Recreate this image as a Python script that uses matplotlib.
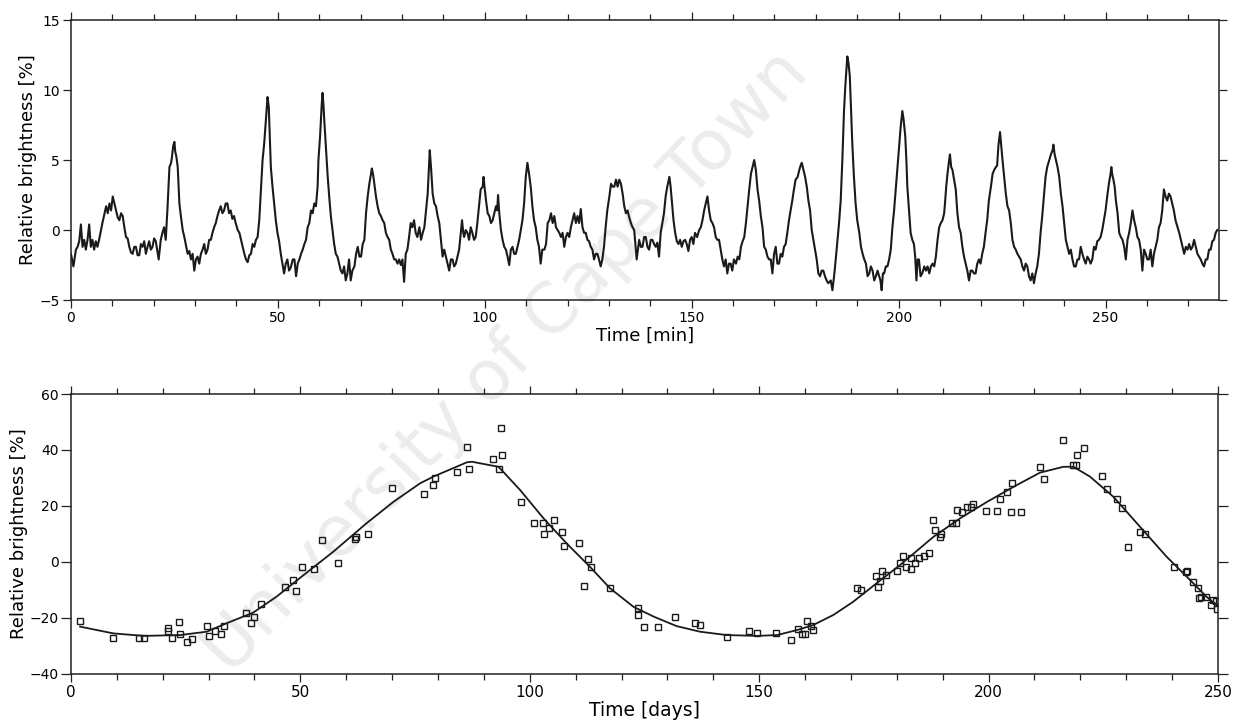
import matplotlib
matplotlib.use("Agg")
import matplotlib.pyplot as plt
from matplotlib.ticker import MultipleLocator

# light curve, top panel
minutes = [
    0.0, 0.6, 1.2, 1.6, 2.0, 2.4, 2.8, 3.2, 3.6, 4.0,
    4.4, 4.8, 5.2, 5.6, 6.0, 6.4, 6.8, 7.6, 8.5, 8.9,
    9.3, 9.7, 10.1, 10.5, 10.9, 11.3, 11.7, 12.1, 12.5, 12.9,
    13.3, 13.7, 14.1, 14.5, 14.9, 15.3, 15.7, 16.1, 16.5, 16.9,
    17.3, 17.7, 18.1, 18.5, 18.9, 19.3, 19.7, 20.1, 20.5, 21.2,
    21.7, 22.1, 22.5, 22.9, 23.3, 23.8, 24.2, 24.4, 24.7, 25.0,
    25.2, 25.5, 25.8, 26.2, 26.6, 27.0, 27.4, 27.8, 28.2, 28.6,
    29.0, 29.4, 29.8, 30.2, 30.6, 31.0, 31.4, 31.8, 32.2, 32.6,
    33.0, 33.4, 33.8, 34.2, 34.6, 35.0, 35.4, 35.8, 36.2, 36.6,
    37.0, 37.4, 37.8, 38.2, 38.6, 39.0, 39.4, 39.8, 40.3, 40.7,
    41.1, 41.5, 41.9, 42.3, 42.7, 43.1, 43.5, 43.9, 44.3, 44.7,
    45.1, 45.5, 45.9, 46.3, 46.7, 47.0, 47.3, 47.5, 47.8, 47.9,
    48.3, 48.7, 49.1, 49.5, 49.9, 50.3, 50.7, 51.1, 51.5, 51.9,
    52.3, 52.7, 53.1, 53.6, 54.0, 54.4, 54.8, 55.2, 55.6, 56.0,
    56.4, 56.8, 57.2, 57.6, 58.0, 58.4, 58.8, 59.2, 59.6, 59.8,
    60.2, 60.4, 60.6, 60.8, 61.0, 61.2, 61.6, 62.0, 62.4, 62.8,
    63.2, 63.6, 64.0, 64.4, 64.8, 65.2, 65.6, 66.0, 66.4, 66.8,
    67.2, 67.6, 68.0, 68.5, 68.9, 69.3, 69.7, 70.1, 70.5, 70.9,
    71.3, 71.7, 72.1, 72.5, 72.7, 73.0, 73.3, 73.7, 74.1, 74.5,
    74.9, 75.3, 75.7, 76.1, 76.5, 76.9, 77.3, 77.7, 78.1, 78.5,
    78.9, 79.3, 79.7, 80.1, 80.5, 80.9, 81.3, 81.7, 82.1, 82.5,
    82.9, 83.3, 83.7, 84.2, 84.6, 85.0, 85.4, 85.8, 86.2, 86.5,
    86.7, 87.0, 87.4, 87.8, 88.2, 88.6, 89.0, 89.4, 89.8, 90.2,
    90.6, 91.0, 91.4, 91.8, 92.2, 92.6, 93.0, 93.4, 93.8, 94.2,
    94.5, 94.8, 95.0, 95.4, 95.8, 96.2, 96.6, 97.0, 97.4, 97.8,
    98.2, 98.6, 99.0, 99.5, 99.7, 100.0, 100.3, 100.7, 101.1, 101.5,
    101.9, 102.3, 102.7, 103.0, 103.2, 103.5, 103.9, 104.3, 104.7, 105.1,
    105.5, 105.9, 106.3, 106.7, 107.1, 107.5, 107.9, 108.3, 108.7, 109.1,
    109.5, 109.9, 110.3, 110.7, 111.1, 111.5, 111.9, 112.3, 112.7, 113.1,
    113.5, 113.9, 114.4, 114.8, 115.2, 115.6, 116.0, 116.4, 116.8, 117.2,
    117.6, 118.0, 118.4, 118.8, 119.2, 119.6, 120.0, 120.4, 120.8, 121.2,
    121.6, 122.0, 122.4, 122.8, 123.2, 123.6, 124.0, 124.4, 124.8, 125.2,
    125.6, 126.0, 126.4, 126.8, 127.2, 127.6, 128.0, 128.4, 128.8, 129.2,
    129.6, 130.1, 130.5, 130.9, 131.3, 131.7, 132.1, 132.5, 132.9, 133.3,
    133.7, 134.1, 134.5, 134.9, 135.3, 135.7, 136.1, 136.7,
    137.3, 137.7, 138.1, 138.5, 138.9, 139.3, 139.7, 140.1, 140.5, 140.9,
    141.3, 141.7, 142.1, 142.5, 142.9, 143.3, 143.7, 144.1, 144.6, 144.9,
    145.2, 145.6, 146.0, 146.4, 146.8, 147.2, 147.6, 148.0, 148.4, 148.8,
    149.2, 149.6, 150.0, 150.4, 150.8, 151.3, 151.8, 152.2, 152.6, 153.0,
    153.4, 153.8, 154.2, 154.6, 155.0, 155.4, 155.8, 156.2, 156.6, 157.0,
    157.4, 157.8, 158.2, 158.6, 159.0, 159.4, 159.8, 160.2, 160.7, 161.1,
    161.5, 161.9, 162.3, 162.7, 163.1, 163.5, 163.9, 164.3, 164.7, 165.1,
    165.5, 165.9, 166.3, 166.7, 167.1, 167.5, 167.9, 168.3, 168.7, 169.1,
    169.5, 169.9, 170.3, 170.7, 171.1, 171.5, 171.9, 172.3, 172.7, 173.1,
    173.5, 173.9, 174.3, 174.7, 175.1, 175.6, 176.0, 176.3, 176.6, 177.0,
    177.4, 177.8, 178.2, 178.6, 179.0, 179.4, 179.8, 180.2, 180.6, 181.0,
    181.4, 181.8, 182.2, 182.6, 183.0,
    183.6, 184.0, 184.4, 184.8, 185.2, 185.6, 186.0, 186.4, 186.8, 187.1,
    187.4, 187.6, 187.9, 188.2, 188.5, 188.8, 189.2, 189.6, 190.0, 190.5,
    190.9, 191.3, 191.7, 192.1, 192.5, 192.9, 193.3, 193.7, 194.1, 194.5,
    194.9, 195.3, 195.6, 195.9, 196.2, 196.5, 196.9, 197.3, 197.7, 198.1,
    198.5, 198.9, 199.3, 199.7, 200.1, 200.5, 200.9, 201.2, 201.6, 201.9,
    202.1, 202.5, 202.9, 203.3, 203.7, 204.0, 204.3, 204.6, 204.9, 205.3,
    205.7, 206.2, 206.6, 207.0, 207.4, 207.8, 208.2, 208.6, 209.0, 209.4,
    209.8, 210.2, 210.6, 211.0, 211.2, 211.5, 211.8, 212.2, 212.4, 212.7,
    213.0, 213.4, 213.8, 214.2, 214.6, 215.0, 215.4, 215.8, 216.2, 216.6,
    217.0, 217.4, 217.8, 218.2, 218.6, 219.0, 219.4, 219.8, 220.2, 220.6,
    221.0, 221.4, 221.8, 222.3, 222.7, 223.1, 223.5, 223.8, 224.1, 224.5,
    224.8, 225.1, 225.5, 225.9, 226.3, 226.7, 227.1, 227.5, 227.9, 228.3,
    228.7,
    229.1, 229.5, 229.9, 230.3, 230.7, 231.1, 231.5, 231.9, 232.3, 232.7,
    233.1, 233.5, 233.9, 234.3, 234.7, 235.1, 235.5, 235.9, 236.4, 236.8,
    237.2, 237.4, 237.7, 238.0, 238.4, 238.8, 239.2, 239.6, 240.0, 240.4,
    240.8, 241.2, 241.6, 242.0, 242.4, 242.8, 243.2, 243.6, 244.0, 244.4,
    244.8, 245.2, 245.6, 246.0, 246.4, 246.8, 247.2, 247.6, 248.0, 248.4,
    248.8, 249.2, 249.6, 250.0, 250.4, 250.8, 251.2, 251.4, 251.6, 251.9,
    252.2, 252.5, 252.9, 253.3, 253.7, 254.1, 254.5, 254.9, 255.3, 255.7,
    256.1, 256.5, 256.9, 257.3, 257.7, 258.1, 258.5, 258.9, 259.3, 259.7,
    260.1, 260.5, 260.9, 261.3, 261.7, 262.1, 262.5, 262.9, 263.3, 263.7,
    264.1, 264.5, 264.9, 265.3, 265.7, 266.1, 266.5, 266.9, 267.4, 267.8,
    268.2, 268.6, 269.0, 269.4, 269.8, 270.2, 270.6, 271.0, 271.4, 271.8,
    272.2, 272.6, 273.0, 273.4, 273.8, 274.2, 274.6, 275.0, 275.4, 275.8,
    276.2, 276.6, 277.0,
]
brightness = [
    -1.7, -2.6, -1.4, -1.2, -0.8, 0.4, -1.2, -0.7, -1.4, -0.7,
    0.4, -1.2, -0.7, -1.4, -0.8, -1.2, -0.7, 0.5, 1.7, 1.2,
    1.9, 1.4, 2.4, 1.9, 1.4, 0.9, 0.7, 1.2, 1.0, 0.2,
    -0.5, -0.6, -1.2, -1.6, -1.7, -1.2, -1.2, -1.8, -1.8, -1.0,
    -1.2, -0.8, -1.7, -1.2, -0.8, -1.4, -1.2, -0.6, -0.8, -2.1,
    -0.7, -0.2, 0.2, -0.7, 1.4, 4.5, 4.8, 5.2, 6.0, 6.3,
    5.6, 5.2, 4.5, 1.9, 0.9, 0.0, -0.5, -1.1, -1.7, -1.5,
    -2.1, -1.7, -2.9, -2.1, -1.9, -2.4, -1.7, -1.4, -1.0, -1.7,
    -1.4, -0.7, -0.7, -0.2, 0.2, 0.5, 1.0, 1.4, 1.7, 1.2,
    1.4, 1.9, 1.9, 1.2, 1.4, 0.8, 1.0, 0.5, 0.0, -0.2,
    -0.7, -1.2, -1.7, -2.1, -2.3, -1.8, -1.7, -1.0, -1.2, -0.7,
    -0.5, 0.7, 2.9, 5.0, 6.2, 7.4, 8.5, 9.5, 8.8, 7.9,
    4.5, 3.1, 1.9, 0.7, -0.2, -0.8, -1.7, -2.4, -3.1, -2.4,
    -2.1, -2.9, -2.7, -2.1, -2.1, -3.3, -2.4, -2.1, -1.7, -1.4,
    -1.0, -0.7, 0.2, 0.5, 1.4, 1.2, 1.9, 1.7, 3.1, 5.0,
    6.7, 7.9, 9.0, 9.8, 9.0, 7.9, 6.0, 4.0, 2.4, 1.0,
    0.0, -1.0, -1.7, -1.9, -2.4, -2.9, -3.1, -2.6, -3.6, -3.1,
    -2.1, -3.6, -2.9, -2.6, -1.7, -1.2, -1.9, -1.9, -1.0, -0.7,
    1.2, 2.4, 3.3, 4.0, 4.4, 4.0, 3.3, 2.4, 1.7, 1.2,
    1.0, 0.7, 0.5, -0.2, -0.5, -0.7, -1.4, -1.7, -2.1, -2.1,
    -2.4, -2.1, -2.5, -2.1, -3.7, -1.7, -1.4, -0.5, 0.5, 0.2,
    0.7, -0.2, -0.5, 0.2, -0.7, -0.2, 0.2, 1.4, 2.6, 4.5,
    5.7, 4.5, 2.6, 1.9, 1.7, 1.0, 0.5, -0.7, -1.9, -1.4,
    -1.9, -2.4, -2.9, -2.1, -2.1, -2.6, -2.4, -1.9, -1.4, -0.2,
    0.7, -0.2, -0.5, 0.0, -0.2, -0.7, 0.2, -0.2, -0.7, -0.5,
    0.5, 1.7, 2.9, 3.1, 3.8, 2.9, 2.1, 1.2, 1.0, 0.5,
    0.7, 1.2, 1.7, 1.4, 2.5, 1.2, 0.0, -0.7, -1.2, -1.4,
    -1.9, -2.5, -1.4, -1.2, -1.7, -1.7, -1.2, -0.7, 0.0, 0.7,
    1.9, 3.8, 4.8, 4.0, 3.1, 1.7, 0.7, 0.2, -0.7, -1.2,
    -2.4, -1.4, -1.4, -1.0, 0.5, 0.7, 1.2, 0.5, 1.0, 0.2,
    0.0, -0.2, -0.5, -0.2, -1.2, -0.5, -0.2, -0.5, 0.2, 0.7,
    1.2, 0.5, 1.0, 0.5, 1.5, 0.2, -0.2, -0.2, -0.7, -0.8,
    -1.2, -1.4, -2.1, -1.7, -1.7, -2.1, -2.6, -2.1, -1.2, 0.2,
    1.4, 2.4, 3.3, 3.1, 3.1, 3.6, 3.1, 3.6, 3.3, 2.6,
    1.7, 1.2, 1.4, 0.9, 0.5, 0.2, 0.0, -2.1,
    -0.7, -1.2, -1.2, -0.5, -0.5, -1.2, -1.4, -0.7, -0.7, -1.0,
    -1.2, -0.9, -1.9, -0.2, 0.5, 1.2, 2.4, 3.1, 3.8, 3.1,
    2.1, 0.7, -0.2, -0.8, -1.0, -0.7, -1.2, -0.8, -0.7, -1.0,
    -1.5, -0.7, -0.5, -1.0, -0.2, -0.5, 0.0, 0.2, 0.7, 1.4,
    1.9, 2.4, 1.4, 0.7, 0.5, 0.2, -0.5, -0.7, -0.7, -1.4,
    -2.1, -2.6, -2.1, -3.1, -2.4, -2.4, -2.9, -2.1, -2.4, -1.9,
    -2.1, -1.2, -0.8, -0.5, 0.5, 1.7, 2.9, 4.0, 4.5, 5.0,
    4.3, 2.9, 2.1, 1.0, 0.2, -1.2, -1.4, -1.9, -2.1, -2.1,
    -3.1, -1.7, -1.2, -2.4, -2.4, -1.7, -1.9, -1.2, -1.0, -0.2,
    0.7, 1.4, 2.1, 2.9, 3.6, 3.8, 4.3, 4.6, 4.8, 4.3,
    3.8, 3.1, 2.1, 1.4, 0.0, -0.7, -1.4, -2.1, -3.1, -3.3,
    -2.9, -2.9, -3.3, -3.6, -3.8,
    -3.6, -4.3, -3.3, -2.1, -0.8, 0.5, 2.1, 5.0, 8.5, 10.2,
    11.5, 12.4, 11.9, 11.0, 8.5, 6.2, 3.8, 1.9, 0.7, -0.2,
    -1.2, -1.7, -2.1, -2.4, -3.3, -3.1, -2.6, -2.9, -3.6, -3.3,
    -2.9, -3.3, -3.6, -4.3, -3.1, -3.1, -2.6, -2.6, -2.1, -1.4,
    0.2, 1.4, 2.9, 4.5, 6.0, 7.4, 8.5, 7.9, 6.7, 4.8,
    3.1, 1.4, -0.2, -0.7, -1.0, -1.9, -3.6, -2.1, -2.1, -3.3,
    -3.1, -2.6, -2.9, -2.6, -3.1, -2.6, -2.4, -2.6, -1.9, -0.7,
    0.2, 0.5, 0.7, 1.2, 1.9, 3.1, 4.0, 5.0, 5.4, 4.5,
    4.3, 3.6, 2.9, 1.2, 0.2, -0.2, -1.2, -1.9, -2.4, -2.9,
    -3.6, -2.9, -2.9, -3.1, -3.1, -2.4, -2.1, -2.4, -1.7, -1.2,
    -0.2, 0.7, 2.1, 3.1, 4.0, 4.3, 4.5, 4.6, 6.0, 7.0,
    6.0, 5.0, 3.8, 2.6, 1.7, 1.4, 0.5, -0.7, -1.2, -1.4,
    -1.7,
    -1.9, -2.1, -2.6, -2.9, -2.4, -2.6, -3.3, -3.6, -3.1, -3.8,
    -3.1, -2.6, -1.7, -0.2, 1.0, 2.4, 3.8, 4.5, 5.0, 5.4,
    5.7, 6.1, 5.4, 5.0, 4.5, 3.8, 2.6, 1.7, 0.5, -0.7,
    -1.2, -1.7, -1.4, -2.1, -2.6, -2.6, -2.1, -2.1, -1.2, -1.7,
    -2.1, -2.4, -1.9, -2.1, -2.4, -2.1, -1.2, -1.4, -0.8, -0.7,
    -0.5, 0.0, 0.7, 1.4, 2.4, 3.3, 4.0, 4.5, 4.0, 3.6,
    3.1, 2.1, 1.2, -0.2, -0.5, -0.7, -1.2, -2.1, -0.7, -0.2,
    0.5, 1.4, 0.7, 0.2, -0.5, -0.7, -1.4, -2.9, -1.4, -1.7,
    -2.1, -2.1, -1.4, -2.6, -1.7, -1.2, -0.7, 0.2, 0.5, 1.4,
    2.9, 2.4, 2.1, 2.6, 2.4, 1.9, 1.4, 0.7, 0.2, -0.2,
    -0.7, -1.2, -1.7, -1.2, -1.4, -1.0, -1.4, -1.2, -0.7, -1.2,
    -1.7, -1.9, -2.1, -2.4, -2.6, -2.1, -2.1, -1.4, -1.4, -0.8,
    -0.7, -0.2, 0.0,
]

# seasonal observations, bottom panel
obs_days = [
    2.0, 9.2, 14.9, 15.9, 21.1, 21.2, 22.0, 23.5, 23.8, 25.2,
    26.3, 29.6, 30.1, 31.4, 32.8, 33.3, 38.1, 39.2, 40.0, 41.4,
    46.7, 48.3, 49.0, 50.3, 53.0, 54.8, 58.3, 61.9, 62.2, 64.8,
    70.0, 77.0, 79.0, 79.4, 84.1, 86.4, 86.7, 92.0, 93.3, 93.7,
    93.9, 98.2, 101.0, 102.8, 103.2, 104.3, 105.3, 107.0, 107.4, 110.8,
    111.8, 112.6, 113.3, 117.5, 123.5, 123.5, 124.8, 128.0, 131.6, 136.0,
    137.2, 142.9, 147.7, 149.6, 153.6, 156.9, 158.5, 159.4, 160.0, 160.5,
    161.2, 161.8, 171.4, 172.3, 175.5, 175.8, 176.3, 176.8, 177.6, 180.0,
    180.7, 181.4, 182.1, 183.1, 183.1, 184.0, 184.9, 186.0, 187.0, 187.9,
    188.4, 189.4, 189.7, 192.0, 192.9, 193.2, 194.3, 195.2, 196.1, 196.7,
    199.4, 201.9, 202.5, 204.1, 204.9, 205.2, 207.0, 211.2, 212.0, 216.2,
    218.3, 219.0, 219.3, 220.9, 224.8, 225.9, 227.9, 229.0, 230.5, 232.9,
    234.0, 240.5, 243.1, 243.3, 244.6, 245.6, 245.9, 246.4, 247.5, 248.4,
    249.0, 249.6, 249.9,
]
obs_brightness = [
    -21.1, -27.3, -27.3, -27.3, -23.7, -24.6, -27.3, -21.5, -25.7, -28.5,
    -27.6, -22.9, -26.4, -24.6, -25.8, -22.9, -18.1, -21.7, -19.5, -15.0,
    -9.0, -6.4, -10.2, -1.9, -2.4, 7.9, -0.5, 8.1, 9.0, 10.0,
    26.3, 24.2, 27.5, 29.9, 32.0, 41.0, 33.1, 36.8, 33.1, 47.7,
    38.2, 21.5, 13.8, 13.8, 10.0, 12.0, 15.0, 10.8, 5.7, 6.9,
    -8.6, 1.2, -1.7, -9.4, -16.5, -18.9, -23.1, -23.1, -19.8, -21.9,
    -22.5, -26.7, -24.5, -25.2, -25.2, -27.9, -23.9, -25.7, -25.7, -21.1,
    -22.9, -24.3, -9.2, -10.0, -4.9, -8.8, -6.7, -3.2, -4.6, -3.2,
    -0.5, 2.1, -1.7, 1.3, -2.6, -0.5, 1.3, 2.1, 3.1, 15.0,
    11.4, 8.8, 10.0, 14.0, 14.0, 18.6, 17.7, 19.5, 19.8, 20.6,
    18.3, 18.3, 22.5, 24.9, 18.0, 28.1, 18.0, 34.0, 29.5, 43.6,
    34.6, 34.6, 38.2, 40.6, 30.8, 26.0, 22.5, 19.2, 5.5, 10.8,
    10.0, -1.7, -3.7, -3.1, -7.3, -9.4, -12.7, -12.4, -12.6, -15.4,
    -13.6, -13.8, -16.9,
]

# fitted curve through the observations
fit_days = [
    2.0, 9.2, 15.9, 23.8, 29.6, 33.9, 39.7, 44.8, 50.3, 57.2,
    64.4, 70.3, 76.1, 79.0, 86.3, 87.4, 93.2, 97.9, 103.0, 108.0,
    113.1, 117.5, 122.6, 127.0, 132.0, 137.1, 142.9, 149.5, 153.9, 158.3,
    161.8, 166.2, 170.5, 175.6, 180.7, 188.0, 193.8, 199.7, 205.5, 211.2,
    216.3, 218.5, 222.1, 227.2, 233.0, 238.8, 243.9, 247.5, 250.1,
]
fit_brightness = [
    -23.1, -25.5, -26.4, -26.1, -24.9, -21.9, -18.1, -12.4, -5.2, 3.7,
    13.8, 21.5, 28.1, 30.5, 35.6, 35.8, 34.0, 25.7, 15.6, 6.7,
    -1.7, -9.4, -16.0, -19.5, -22.9, -24.9, -26.1, -26.4, -26.1, -24.3,
    -22.5, -18.9, -14.2, -7.6, -1.1, 9.0, 15.6, 21.5, 26.9, 31.9,
    34.0, 34.0, 30.5, 23.3, 12.6, 1.9, -6.4, -12.4, -16.0,
]

plt.rcParams['font.family'] = ['DejaVu Sans']

fig = plt.figure(figsize=(12.34, 7.24), dpi=100)
ax1 = fig.add_axes([0.0575, 0.5856, 0.9303, 0.3867])
ax2 = fig.add_axes([0.0575, 0.0691, 0.9295, 0.3867])

# scan watermark
fig.text(0.41, 0.50, "University of Cape Town", fontsize=50, color="#ececec",
         rotation=46, ha="center", va="center", zorder=-1)

ax1.plot(minutes, brightness, color="#1a1a1a", lw=1.5)
ax1.set_xlim(0, 277.4)
ax1.set_ylim(-5, 15)
ax1.xaxis.set_major_locator(MultipleLocator(50))
ax1.xaxis.set_minor_locator(MultipleLocator(10))
ax1.yaxis.set_major_locator(MultipleLocator(5))
ax1.set_xlabel("Time [min]", fontsize=13, labelpad=1)
ax1.set_ylabel("Relative brightness [%]", fontsize=13, labelpad=2)

ax2.plot(fit_days, fit_brightness, color="#1a1a1a", lw=1.3)
ax2.plot(obs_days, obs_brightness, ls="none", marker="s", ms=4.5,
         mfc="none", mec="#1a1a1a", mew=1.0)
ax2.set_xlim(0, 250)
ax2.set_ylim(-40, 60)
ax2.xaxis.set_major_locator(MultipleLocator(50))
ax2.xaxis.set_minor_locator(MultipleLocator(10))
ax2.yaxis.set_major_locator(MultipleLocator(20))
ax2.set_xlabel("Time [days]", fontsize=13.5, labelpad=1)
ax2.set_ylabel("Relative brightness [%]", fontsize=13, labelpad=1)

for ax in (ax1, ax2):
    ax.patch.set_alpha(0)
    for s in ax.spines.values():
        s.set_linewidth(1.1)
        s.set_color("#222222")
    ax.tick_params(which="both", direction="out", top=True, right=True,
                   labeltop=False, labelright=False, width=0.9, color="#222222")
    ax.tick_params(which="major", length=6, labelsize=10, pad=2)
    ax.tick_params(which="minor", length=4)

ax2.tick_params(axis="x", which="major", labelsize=11)
ax2.tick_params(axis="y", which="major", length=7, pad=2)

fig.savefig("out.png", dpi=100)
